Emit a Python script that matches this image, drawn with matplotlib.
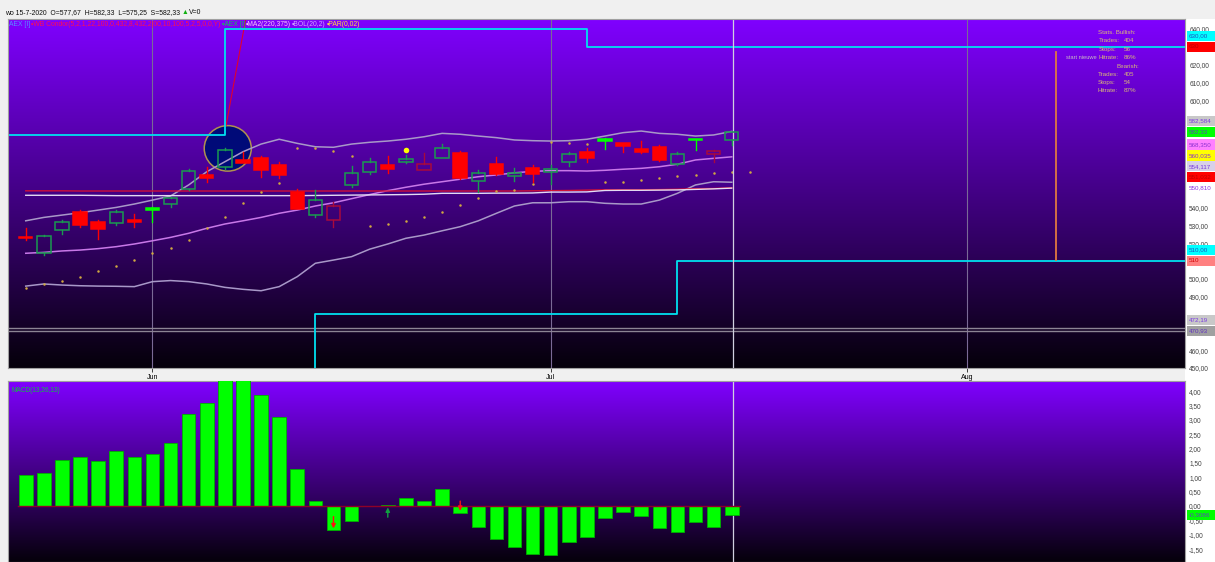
import numpy as np
import matplotlib
matplotlib.use("Agg")
import matplotlib.pyplot as plt
from matplotlib import font_manager
from matplotlib.patches import Rectangle, Ellipse
from matplotlib.transforms import blended_transform_factory

W, H = 1215, 562

# AEX [I] daily bars, 21-5-2020 .. 15-7-2020
quote_date = "15-7-2020"
prev_close = 524.0
opens = [523.5, 514.5, 527.5, 537.7, 531.6, 531.0, 533.1, 539.6, 542.0, 550.4,
         558.2, 562.7, 566.6, 567.5, 563.8, 548.5, 535.9, 533.1, 552.7, 559.7,
         563.8, 565.3, 561.0, 567.9, 570.3, 554.9, 564.1, 557.7, 562.3, 559.7,
         565.7, 571.3, 578.4, 575.9, 572.8, 574.0, 564.4, 578.2, 570.2, 577.67]
highs = [528.5, 524.5, 533.0, 538.5, 533.1, 538.5, 536.2, 540.0, 546.0, 561.4,
         562.9, 573.5, 571.3, 568.9, 565.7, 550.4, 549.9, 543.3, 563.4, 567.9,
         568.9, 569.4, 570.3, 575.3, 571.7, 561.0, 568.5, 562.3, 563.8, 563.8,
         571.0, 573.1, 578.8, 576.3, 577.2, 575.0, 571.0, 578.5, 572.0, 582.33]
lows = [522.0, 513.5, 525.0, 528.8, 522.5, 530.0, 528.8, 531.8, 540.4, 550.0,
        554.5, 561.5, 564.7, 557.3, 556.4, 539.0, 534.4, 528.8, 551.2, 558.5,
        559.5, 564.7, 561.0, 567.5, 556.0, 548.5, 558.0, 554.9, 554.5, 553.0,
        563.4, 565.7, 572.8, 571.3, 570.3, 566.0, 563.5, 572.2, 565.3, 575.25]
closes = [522.6, 523.8, 532.1, 530.3, 528.1, 537.7, 531.6, 538.8, 545.2, 560.6,
          556.7, 572.2, 565.1, 561.0, 558.2, 539.2, 544.3, 541.0, 559.1, 565.3,
          561.4, 567.2, 564.1, 573.5, 556.4, 559.5, 558.6, 559.5, 559.0, 561.6,
          570.0, 567.5, 577.4, 574.6, 571.3, 566.4, 570.0, 577.6, 571.7, 582.33]

bol_up = [532.5, 534.4, 535.7, 537.0, 538.5, 540.0, 541.9, 544.1, 546.4, 552.6,
          560.0, 565.6, 571.2, 575.5, 578.2, 575.9, 574.0, 573.7, 575.5, 576.5,
          577.2, 578.2, 579.6, 581.5, 581.0, 580.0, 579.1, 577.8, 577.4, 577.2,
          577.4, 578.2, 580.0, 581.9, 582.8, 581.5, 581.0, 580.0, 580.6, 582.584]
bol_mid = [514.3, 514.8, 515.6, 516.1, 516.9, 518.0, 519.5, 521.3, 523.2, 525.5,
           528.3, 530.7, 532.5, 534.4, 536.7, 538.5, 540.8, 542.6, 544.9, 547.2,
           549.4, 551.3, 553.0, 554.4, 555.8, 557.2, 558.2, 559.4, 560.2, 560.6,
           560.6, 560.4, 560.8, 561.4, 561.9, 562.8, 564.2, 566.6, 567.5, 568.35]
bol_low = [495.9, 497.1, 496.5, 496.1, 495.9, 495.8, 495.6, 498.4, 499.0, 498.4,
           497.1, 495.2, 494.1, 493.3, 495.6, 501.2, 508.7, 510.5, 512.4, 516.6,
           519.5, 522.7, 524.5, 526.9, 529.2, 532.5, 536.7, 540.8, 542.6, 542.6,
           543.2, 543.2, 542.3, 541.9, 541.9, 544.1, 547.9, 552.6, 554.4, 554.117]
ma220 = [546.8, 546.8, 546.8, 546.8, 546.7, 546.6, 546.6, 546.6, 546.6, 546.6,
         546.6, 546.6, 546.6, 546.6, 546.6, 546.6, 546.7, 546.8, 546.9, 547.0,
         547.1, 547.2, 547.4, 547.9, 547.9, 547.9, 548.0, 548.0, 548.1, 548.6,
         548.6, 548.7, 549.5, 549.6, 549.6, 549.7, 549.8, 550.1, 550.4, 550.81]
ma375 = [549.3, 549.3, 549.3, 549.2, 549.2, 549.2, 549.2, 549.2, 549.2, 549.2,
         549.2, 549.2, 549.2, 549.2, 549.2, 549.2, 549.2, 549.2, 549.2, 549.2,
         549.2, 549.2, 549.2, 549.2, 549.2, 549.2, 549.2, 549.2, 549.3, 549.4,
         549.5, 549.7, 549.9, 549.9, 549.9, 550.0, 550.2, 550.5, 550.6, 551.032]
# parabolic SAR, one value more than the bars (next day)
par = [494.7, 497.0, 498.9, 501.2, 504.3, 507.3, 510.5, 514.3, 517.4, 521.5,
       528.3, 534.6, 542.5, 548.8, 553.9, 573.5, 573.1, 571.6, 568.8, 529.7,
       530.7, 532.2, 534.8, 537.4, 541.3, 545.4, 549.4, 549.8, 553.1, 576.5,
       576.3, 575.4, 554.2, 554.4, 555.4, 556.6, 557.6, 558.3, 559.4, 559.6,
       560.035]
macd = [1.09, 1.14, 1.60, 1.70, 1.57, 1.90, 1.69, 1.82, 2.19, 3.21,
        3.57, 4.45, 4.40, 3.86, 3.11, 1.29, 0.19, -0.83, -0.52, -0.01,
        0.05, 0.28, 0.19, 0.59, -0.25, -0.72, -1.14, -1.44, -1.67, -1.70,
        -1.24, -1.08, -0.43, -0.21, -0.34, -0.77, -0.89, -0.55, -0.72, -0.3086]

# WB Condor channel (step changes: bar index, level)
condor_up_x = [-1, 11, 31, 65]
condor_up_y = [580.6, 640, 630, 630]
condor_dn_x = [-1, 16, 36, 65]
condor_dn_y = [440, 480, 510, 510]
hlines = [472.19, 470.93]

signal_dot_idx, signal_dot_val = 21, 572.2
circle_idx, circle_val = 11.16, 573.1
trade_start_idx, trade_start_lo, trade_start_hi = 56.9, 510.5, 627.0

macd_arrow_idx = [17, 20, 24]
macd_arrow_from = [-0.37, -0.39, 0.17]
macd_arrow_to = [-0.78, -0.05, -0.17]

month_pos = [7, 29, 52]
month_names = ["Jun", "Jul", "Aug"]

stats_bull = [404, 56, 86]
stats_bear = [405, 54, 87]

legend_items = [("AEX [I]", "#5a8cff"),
                ("\u2022WB Condor(5,2,1,22,100,0,432,8,432,2|00,10,100,5,2,5,0,0,Y)", "#ff1050"),
                ("\u2022AEX [I]", "#10c850"),
                ("\u2022MA2(220,375)", "#f8c8f8"),
                ("\u2022BOL(20,2)", "#d0a8ff"),
                ("\u2022PAR(0,02)", "#ffe040")]

installed = {f.name for f in font_manager.fontManager.ttflist}
if "Liberation Sans Narrow" in installed:
    FONT, K = "Liberation Sans Narrow", 1.0
else:
    FONT, K = "Liberation Sans", 0.84
plt.rcParams["font.family"] = [FONT, "DejaVu Sans"]


def comma(v, d=2):
    return f"{v:.{d}f}".replace(".", ",")


def gradient(ax):
    t = np.linspace(0, 1, 256)[:, None]
    top = np.array([0.50, 0.0, 1.0])
    bot = np.array([0.02, 0.0, 0.04])
    rgb = top * (1 - t) + bot * t
    ax.imshow(rgb[:, None, :], extent=[0, 1, 0, 1], transform=ax.transAxes,
              aspect="auto", zorder=0, interpolation="bilinear")


def side_labels(ax, items, h):
    # coloured value boxes on the right axis, pushed up when they would overlap
    trans = blended_transform_factory(ax.transAxes, ax.transData)
    last = -1e9
    spans = []
    for val, txt, bg, fg in sorted(items, key=lambda it: it[0]):
        pos = max(val, last + h)
        last = pos
        ax.add_patch(Rectangle((1.0015, pos - h * 0.47), 0.03, h * 0.94, transform=trans,
                               facecolor=bg, edgecolor="none", clip_on=False, zorder=5))
        ax.text(1.003, pos, txt, transform=trans, color=fg, fontsize=5.4 * K,
                va="center", ha="left", clip_on=False, zorder=6)
        spans.append((pos - h * 0.5, pos + h * 0.5))
    return spans


def right_ticks(ax, ticks, spans):
    # tick labels that sit behind a value box are not visible
    labels = []
    for v in ticks:
        hidden = any(a <= v <= b for a, b in spans)
        labels.append("" if hidden else comma(v))
    ax.yaxis.tick_right()
    ax.set_yticks(ticks)
    ax.set_yticklabels(labels)
    ax.tick_params(axis="y", length=0, pad=3, labelsize=5.6 * K, labelcolor="#404040")


fig = plt.figure(figsize=(W / 100, H / 100), dpi=100, facecolor="#f0f0f0")
fig.add_artist(Rectangle((1185 / W, 0), 30 / W, 1 - 19 / H, transform=fig.transFigure,
                         facecolor="white", edgecolor="none", zorder=-1))

ax1 = fig.add_axes([8 / W, 1 - 368 / H, 1177 / W, 349 / H])
ax2 = fig.add_axes([8 / W, 0, 1177 / W, 181 / H])
for ax in (ax1, ax2):
    gradient(ax)
    for s in ax.spines.values():
        s.set_color("#a0a0a0")
        s.set_linewidth(0.8)

n = len(closes)
x = np.arange(n)

# ---------- price panel ----------
for m in month_pos:
    ax1.axvline(m, color="#7a6a96", lw=0.8, zorder=1)
for v in hlines:
    ax1.axhline(v, color="#8c8494", lw=1.0, zorder=1)

ax1.add_patch(Ellipse((circle_idx, circle_val), 2.6, 25.5, facecolor="#000a78",
                      edgecolor="#b09050", lw=1.1, zorder=1.5))
ax1.plot([circle_idx - 0.1, circle_idx + 1.0], [circle_val + 12.5, 646],
         color="#e00030", lw=0.8, zorder=1.6)

ax1.step(condor_up_x, condor_up_y, where="post", color="#00e0f0", lw=1.3, zorder=2)
ax1.step(condor_dn_x, condor_dn_y, where="post", color="#00e0f0", lw=1.3, zorder=2)

ax1.plot(x, bol_up, color="#a898c8", lw=1.1, zorder=2)
ax1.plot(x, bol_low, color="#a898c8", lw=1.1, zorder=2)
ax1.plot(x, bol_mid, color="#c878e8", lw=1.1, zorder=2)
ax1.plot(x, ma375, color="#d01038", lw=1.0, zorder=2)
ax1.plot(x, ma220, color="#e4dcf4", lw=1.0, zorder=2)
ax1.plot(np.arange(len(par)), par, ls="none", marker="o", ms=1.8,
         color="#d0a840", mec="none", zorder=2)

prevs = [prev_close] + closes[:-1]
for i in range(n):
    o, h, l, c, p = opens[i], highs[i], lows[i], closes[i], prevs[i]
    hollow = c > o
    if c >= p:
        col = "#1a9a50" if hollow else "#00ff00"
    else:
        col = "#a80a3c" if hollow else "#ff0000"
    lo, hi = min(o, c), max(o, c)
    ax1.plot([i, i], [l, lo], color=col, lw=1.0, zorder=3)
    ax1.plot([i, i], [hi, h], color=col, lw=1.0, zorder=3)
    ax1.add_patch(Rectangle((i - 0.37, lo), 0.74, max(hi - lo, 0.5),
                            facecolor="none" if hollow else col, edgecolor=col,
                            lw=1.1, zorder=3))

ax1.plot([signal_dot_idx], [signal_dot_val], marker="o", ms=4, color="#ffff00",
         mec="none", zorder=4)
ax1.plot([trade_start_idx, trade_start_idx], [trade_start_lo, trade_start_hi],
         color="#e07840", lw=1.3, zorder=2)
ax1.axvline(n - 1 + 0.05, color="#d0d0e0", lw=0.9, zorder=2)

ax1.set_xlim(-0.98, 64.04)
ax1.set_ylim(450, 645.6)
ax1.set_xticks(month_pos)
ax1.set_xticklabels(month_names)
ax1.tick_params(axis="x", length=3, width=0.6, pad=1, labelsize=6 * K, color="#202020")

price_labels = [
    (630, "630", "#ff0000", "#c00000"),
    (630, "630,00", "#00ffff", "#2050c0"),
    (582.584, comma(582.584, 3), "#c8c8c8", "#7a3ae0"),
    (closes[-1], comma(closes[-1]), "#00ff00", "#6040c0"),
    (bol_mid[-1], comma(bol_mid[-1], 3), "#ff80ff", "#8a30d0"),
    (par[-1], comma(par[-1], 3), "#ffff00", "#8a30d0"),
    (bol_low[-1], comma(bol_low[-1], 3), "#d8d0e8", "#7a3ae0"),
    (ma375[-1], comma(ma375[-1], 3), "#ff0000", "#c00000"),
    (ma220[-1], comma(ma220[-1], 3), "#ffffff", "#8a30e0"),
    (510, "510", "#ff8080", "#d00000"),
    (510, "510,00", "#00ffff", "#2050c0"),
    (hlines[1], comma(hlines[1]), "#a0a0a0", "#6030c0"),
    (hlines[0], comma(hlines[0]), "#c8c8c8", "#7a3ae0"),
]
spans1 = side_labels(ax1, price_labels, 6.1)
right_ticks(ax1, np.arange(450, 641, 10), spans1)

# ---------- MACD panel ----------
ax2.bar(x, macd, width=0.75, color="#00ff00", edgecolor="#00b000", lw=0.6, zorder=3)
ax2.plot([-0.45, n - 1 + 0.45], [0, 0], color="#900028", lw=1.0, zorder=4)
for i, a, b in zip(macd_arrow_idx, macd_arrow_from, macd_arrow_to):
    col = "#10a040" if b > a else "#ff1010"
    ax2.annotate("", xy=(i, b), xytext=(i, a),
                 arrowprops=dict(arrowstyle="-|>", color=col, lw=1.0, mutation_scale=6,
                                 shrinkA=0, shrinkB=0),
                 zorder=5)
ax2.axvline(n - 1 + 0.05, color="#d0d0e0", lw=0.9, zorder=2)
ax2.set_xlim(-0.98, 64.04)
ax2.set_ylim(-1.95, 4.35)
ax2.set_xticks([])
spans2 = side_labels(ax2, [(macd[-1], comma(macd[-1], 4), "#00ff00", "#6040c0")], 0.36)
right_ticks(ax2, np.arange(-1.5, 4.01, 0.5), spans2)
ax2.text(0.003, 0.965, "MACD(13,26,13)", transform=ax2.transAxes, color="#10c040",
         fontsize=5.6 * K, va="top", ha="left", zorder=6)

# ---------- texts ----------
r = fig.canvas.get_renderer()


def row(x0, y, parts, fs):
    xx = x0
    for txt, col in parts:
        t = fig.text(xx / W, 1 - y / H, txt, color=col, fontsize=fs, va="center", ha="left")
        xx = t.get_window_extent(renderer=r).x1 + 1


header = (f"wo {quote_date}  O={comma(opens[-1])}  H={comma(highs[-1])}  "
          f"L={comma(lows[-1])}  S={comma(closes[-1])}")
row(5, 13, [(header, "#101010"), ("\u25b2", "#10b010"), ("V=0", "#101010")], 5.9 * K)
row(9, 25, legend_items, 5.8 * K)

gold = "#d8b878"
fig.text(1066 / W, 1 - 57.7 / H, "start nieuwe", color="#c8b8c8",
         fontsize=4.9 * K, va="center")
fig.text(1097.7 / W, 1 - 32.7 / H, "Stats. Bullish:", color=gold, fontsize=5.4 * K, va="center")
for j, (lab, val) in enumerate(zip(["Trades:", "Stops:", "Hitrate:"], stats_bull)):
    y = 41 + 8.4 * j
    fig.text(1098.5 / W, 1 - y / H, lab, color=gold, fontsize=5.4 * K, va="center")
    fig.text(1124 / W, 1 - y / H, f"{val}%" if j == 2 else str(val), color=gold,
             fontsize=5.4 * K, va="center")
fig.text(1116.7 / W, 1 - 66 / H, "Bearish:", color=gold, fontsize=5.4 * K, va="center")
for j, (lab, val) in enumerate(zip(["Trades:", "Stops:", "Hitrate:"], stats_bear)):
    y = 74.3 + 8.3 * j
    fig.text(1097.7 / W, 1 - y / H, lab, color=gold, fontsize=5.4 * K, va="center")
    fig.text(1124 / W, 1 - y / H, f"{val}%" if j == 2 else str(val), color=gold,
             fontsize=5.4 * K, va="center")

fig.savefig("out.png", dpi=100, facecolor=fig.get_facecolor())
